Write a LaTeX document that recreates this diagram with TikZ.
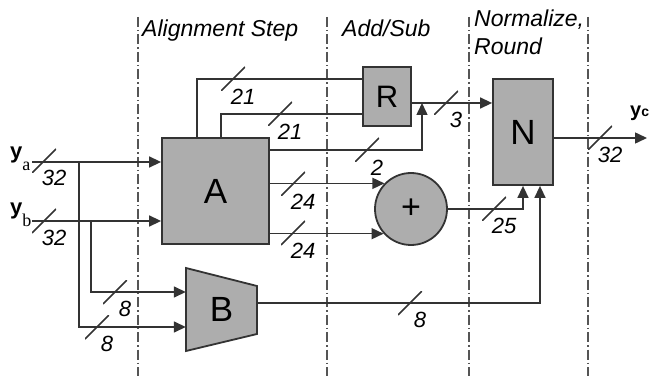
\documentclass[tikz,border=0pt]{standalone}
\usepackage{fontspec}
\setmainfont{Liberation Serif}
\setsansfont{Liberation Sans}
\usetikzlibrary{arrows.meta,calc}
\definecolor{ink}{HTML}{333333}
\definecolor{blk}{HTML}{ADADAD}
\definecolor{sep}{HTML}{555555}

\tikzset{
  wire/.style={ink,line width=1.5pt},
  block/.style={draw=ink,fill=blk,line width=1.8pt,inner sep=0pt,font=\sffamily\fontsize{35}{35}\selectfont},
  bw/.style={font=\sffamily\itshape\fontsize{22}{22}\selectfont,inner sep=0pt,text=black},
  slash/.style={minimum size=24pt,inner sep=0pt,
    path picture={\draw[wire] (path picture bounding box.south west) -- (path picture bounding box.north east);},
    label={[bw,anchor=center,label distance=6pt]-60:#1}},
  stage/.style={sep,line width=1.2pt,dash pattern=on 10pt off 3pt on 1.5pt off 3pt},
  title/.style={font=\sffamily\itshape\fontsize{23}{28}\selectfont,inner sep=0pt,anchor=base west,align=left}
}

\begin{document}
\begin{tikzpicture}[x=1pt,y=1pt,>={Triangle[length=12pt,width=11pt]}]
\useasboundingbox (0,0) rectangle (656,378);
% stage borders and titles
\foreach \x in {138,327,469,588} \draw[stage] (\x,361) -- (\x,2);
\node[title] (t1) at (142,341) {Alignment Step};
\node[title] (t2) at (342,341) {Add/Sub};
\node[title] (t3) at (474,323) {Normalize,\\Round};
% blocks
\node[block,minimum width=107pt,minimum height=106pt] (A) at (215.5,187) {A};
\node[block,minimum width=48pt,minimum height=59pt,font=\sffamily\fontsize{31}{31}\selectfont] (R) at (387,281.5) {R};
\node[block,minimum width=60pt,minimum height=106pt] (N) at (523,246) {N};
\node[block,circle,minimum size=72pt,font=\sffamily\fontsize{34}{34}\selectfont] (add) at (411,169) {+};
\draw[block] (186,110) -- (257,92) -- (257,44) -- (186,27) -- cycle;
\node[inner sep=0pt,minimum width=71pt,minimum height=83pt,font=\sffamily\fontsize{35}{35}\selectfont] (B) at (221.5,68.5) {B};
% inputs and output
\node[anchor=base west,inner sep=0pt] (lya) at (10,219) {\sffamily\bfseries\fontsize{22}{22}\selectfont y\rmfamily\mdseries\fontsize{18}{18}\selectfont\raisebox{-12pt}{a}};
\node[anchor=base west,inner sep=0pt] (lyb) at (10,163) {\sffamily\bfseries\fontsize{22}{22}\selectfont y\rmfamily\mdseries\fontsize{18}{18}\selectfont\raisebox{-11pt}{b}};
\node[anchor=base west,inner sep=0pt] (lyc) at (630,261) {\sffamily\bfseries\fontsize{20}{20}\selectfont y\fontsize{14}{14}\selectfont c};
\coordinate (ya) at (32,216);
\coordinate (yb) at (32,157);
\coordinate (sa) at (79,216);
\coordinate (sb) at (91,157);
\coordinate (rj) at (422,275);
\coordinate (yc) at (647,240);
% wires
\draw[wire,->] (ya) -- (A.west |- ya);
\draw[wire,->] (yb) -- (A.west |- yb);
\draw[wire,->] (sa) |- (B.west |- 0,51);
\draw[wire,->] (sb) |- (B.west |- 0,86);
\draw[wire] (A.north -| 197,0) |- (R.west |- 0,299);
\draw[wire] (A.north -| 221,0) |- (R.west |- 0,264);
\draw[wire,->] (A.east |- 0,228) -| (rj);
\draw[wire,->] (R.east |- rj) -- (N.west |- rj);
\draw[wire,->] (A.east |- add.136) -- (add.136);
\draw[wire,->] (A.east |- add.222) -- (add.222);
\draw[wire,->] (add.east) -| (N.south);
\draw[wire,->] (B.east |- 0,75) -| ([xshift=17pt]N.south);
\draw[wire,->] (N.east |- yc) -- (yc);
% bus widths
\node[slash=32] (w1) at (44,217) {};
\node[slash=32] (w2) at (44,157) {};
\node[slash=21] (w3) at (233,299) {};
\node[slash=21] (w4) at (280,264) {};
\node[slash=2] (w5) at (367,228) {};
\node[slash=3] (w6) at (446,275) {};
\node[slash=24] (w7) at (293,194) {};
\node[slash=24] (w8) at (293,145) {};
\node[slash=25] (w9) at (494,169) {};
\node[slash=8] (w10) at (410,75) {};
\node[slash=32] (w11) at (600,240) {};
\node[slash=8] (w12) at (115,86) {};
\node[slash=8] (w13) at (97,51) {};
\end{tikzpicture}
\end{document}
